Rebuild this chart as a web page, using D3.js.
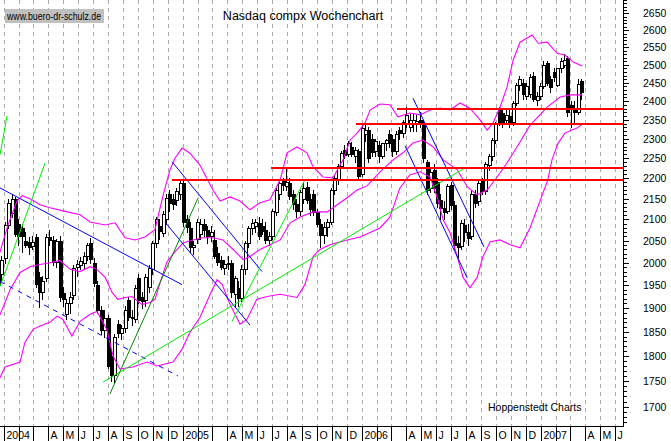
<!DOCTYPE html>
<html><head><meta charset="utf-8">
<script src="https://cdn.jsdelivr.net/npm/d3@7"></script>
<style>body{margin:0;background:#fff}svg{display:block}text{font-family:"Liberation Sans",Arial,sans-serif;fill:#000}</style>
</head><body><svg id="c" width="671" height="441"></svg>
<script>
// ---- data (weekly candles, first week starts Mon 22 Dec 2003) ----
const firstWeek = new Date(2003, 11, 22);
const opens  = [1951,1974,2010,2086,2115,2150,2090,2080,2050,2048,2038,2058,1968,1935,1965,2058,2052,2002,2049,1932,1888,1910,1928,1990,1995,2000,2015,2045,2000,1950,1896,1854,1878,1800,1762,1866,1848,1858,1918,1881,1876,1965,1925,1918,1945,1985,2045,2085,2068,2100,2162,2150,2147,2162,2188,2100,2080,2036,2055,2065,2090,2075,2060,2052,2022,2006,1988,1998,2000,1930,1944,1922,1985,2045,2080,2085,2092,2085,2075,2052,2062,2118,2160,2192,2180,2188,2160,2138,2120,2150,2178,2150,2160,2118,2090,2064,2082,2095,2170,2198,2230,2270,2262,2278,2255,2268,2210,2312,2322,2300,2268,2285,2255,2288,2313,2300,2268,2322,2315,2341,2331,2340,2340,2350,2340,2240,2175,2221,2190,2147,2127,2120,2183,2135,2045,2038,2088,2070,2060,2160,2145,2195,2168,2233,2255,2298,2375,2368,2350,2360,2345,2395,2445,2450,2415,2420,2470,2402,2415,2440,2505,2460,2480,2445,2490,2500,2520,2390,2378,2372,2455];
const highs  = [1980,2015,2095,2150,2160,2155,2100,2090,2070,2058,2060,2065,1980,1970,2065,2075,2060,2055,2060,1945,1920,1935,1995,2005,2012,2025,2045,2057,2010,1960,1905,1895,1885,1815,1845,1875,1865,1905,1925,1895,1950,1975,1935,1975,1995,2050,2105,2100,2120,2160,2170,2160,2175,2192,2192,2110,2095,2050,2100,2100,2100,2085,2085,2075,2035,2015,2005,2015,2005,1970,1960,1995,2050,2085,2100,2100,2105,2100,2095,2070,2125,2175,2195,2200,2225,2200,2170,2150,2170,2190,2190,2160,2170,2125,2100,2095,2100,2175,2205,2235,2268,2285,2295,2292,2280,2275,2335,2338,2330,2312,2300,2295,2290,2300,2322,2310,2320,2330,2350,2383,2365,2365,2363,2370,2350,2245,2225,2235,2200,2160,2145,2185,2190,2145,2060,2098,2100,2090,2168,2170,2195,2200,2240,2262,2302,2345,2385,2375,2375,2375,2400,2450,2470,2462,2450,2475,2480,2425,2450,2510,2512,2470,2490,2492,2520,2531,2525,2400,2400,2460,2462];
const lows   = [1940,1960,2000,2080,2105,2060,2040,2025,2035,2020,2030,1945,1903,1920,1960,2040,1995,1990,1915,1905,1876,1890,1920,1970,1985,1985,2005,2000,1948,1890,1845,1840,1775,1750,1748,1840,1835,1850,1875,1865,1870,1912,1900,1905,1935,1975,2035,2055,2060,2090,2120,2125,2135,2150,2085,2070,2025,2020,2045,2055,2060,2045,2050,2010,1995,1985,1975,1985,1925,1905,1904,1915,1975,2035,2065,2070,2055,2065,2045,2040,2055,2110,2150,2170,2170,2150,2125,2105,2110,2140,2140,2110,2110,2085,2035,2045,2060,2090,2160,2185,2225,2250,2255,2255,2240,2200,2205,2295,2240,2255,2255,2240,2250,2270,2280,2255,2260,2300,2305,2330,2320,2320,2320,2330,2240,2160,2165,2165,2130,2100,2100,2115,2125,2030,2012,2030,2050,2040,2055,2130,2135,2160,2160,2220,2245,2290,2335,2330,2340,2330,2335,2390,2430,2405,2405,2410,2400,2390,2405,2435,2445,2425,2455,2440,2480,2495,2360,2331,2340,2365,2405];
const closes = [1974,2006,2086,2140,2150,2066,2060,2062,2040,2036,2048,1952,1935,1960,2058,2052,2002,2049,1924,1920,1912,1925,1988,1998,2003,2015,2040,2008,1955,1896,1854,1880,1780,1762,1840,1848,1858,1896,1881,1878,1943,1918,1915,1968,1988,2045,2100,2072,2113,2152,2140,2137,2168,2188,2093,2082,2036,2040,2095,2090,2075,2060,2070,2015,2002,1990,1998,2000,1934,1965,1922,1985,2045,2080,2092,2095,2060,2072,2052,2062,2120,2170,2188,2182,2190,2157,2138,2120,2165,2175,2147,2125,2118,2090,2064,2082,2095,2170,2200,2230,2263,2258,2288,2262,2272,2205,2328,2322,2250,2265,2295,2255,2288,2296,2290,2268,2312,2315,2345,2362,2350,2349,2347,2340,2250,2170,2215,2175,2140,2127,2118,2180,2135,2040,2035,2092,2070,2057,2160,2140,2188,2168,2235,2255,2298,2340,2345,2342,2362,2345,2395,2445,2460,2420,2440,2465,2405,2415,2440,2500,2450,2438,2465,2490,2512,2515,2372,2378,2372,2448,2425];

// Bollinger bands: [week index, value]
const upperBand = [[0.3,2023],[2.7,2087],[5.3,2144],[6.8,2157],[9.7,2147],[12,2135],[14.9,2128],[19.9,2118],[23.7,2111],[26.6,2094],[31,2087],[33.9,2092],[36.8,2057],[39.7,2052],[42.6,2059],[45.5,2076],[47.9,2159],[49.9,2221],[51.4,2251],[53.4,2276],[55.7,2263],[58.6,2233],[62.4,2171],[64.5,2144],[67.4,2154],[70.3,2144],[73.2,2123],[76.1,2140],[79,2147],[82,2196],[84,2264],[86.9,2279],[89.8,2264],[91.6,2228],[94.5,2203],[97.4,2201],[100.3,2246],[102.4,2297],[104.4,2315],[106.7,2341],[108.2,2376],[111.1,2392],[114,2390],[116.3,2358],[119.8,2368],[122.8,2363],[125.7,2376],[128.6,2381],[131.5,2376],[134.4,2395],[137.3,2381],[140.3,2349],[142.3,2323],[144,2341],[146.1,2384],[148.1,2438],[149.9,2514],[151.9,2565],[155.4,2586],[157.2,2562],[159.8,2565],[162.7,2533],[165,2528],[167.4,2508],[170,2497]];
const middleBand = [[0.3,1885],[3.3,1940],[6.2,1978],[9.1,1991],[12,1996],[14.9,2000],[17.8,2005],[20.8,1985],[23.7,1980],[26.6,1991],[28.6,1985],[31,1967],[33,1934],[34.7,1919],[36.8,1923],[38.8,1925],[41.7,1908],[44.1,1912],[45.5,1919],[47,1955],[49,2002],[51.4,2025],[53.7,2045],[56.6,2052],[59.5,2057],[62.4,2057],[65.3,2052],[68.3,2030],[71.2,2007],[73.2,2014],[76.1,2030],[79,2041],[82,2052],[84.9,2092],[87.8,2106],[91.6,2118],[95.7,2118],[98.6,2135],[101.5,2152],[104.4,2171],[107.3,2181],[111.1,2216],[114.9,2246],[117.8,2264],[120.7,2289],[123.6,2297],[126.6,2279],[129.5,2246],[133.6,2221],[136.5,2179],[139.4,2159],[142.3,2171],[145.2,2203],[148.1,2238],[151,2279],[154.8,2335],[159.8,2384],[163.6,2411],[166.5,2417],[170,2417]];
const lowerBand = [[0.3,1756],[1.8,1778],[6.2,1788],[7.6,1828],[10,1855],[12,1862],[14.9,1870],[17,1883],[18.7,1876],[21.3,1841],[23.7,1872],[26.6,1887],[28.6,1893],[31.5,1855],[33.3,1800],[35.3,1774],[39.1,1778],[43.2,1788],[46.1,1780],[50.8,1788],[53.4,1814],[55.7,1849],[58.6,1880],[61.6,1930],[63.6,1962],[65.1,1951],[67.4,1908],[70.3,1866],[72.3,1876],[75.2,1919],[78.2,1925],[82,1930],[86.9,1923],[89.2,1951],[91.6,2014],[93.6,2030],[96.5,2041],[101.5,2052],[105.3,2059],[111.1,2080],[114,2106],[116.9,2176],[119.8,2208],[122.8,2216],[125.7,2203],[128,2147],[129.5,2099],[131.5,2069],[133.6,2014],[135.3,1967],[137.3,1944],[139.4,1967],[141.1,2014],[143.2,2048],[146.1,2052],[149,2041],[151.9,2034],[154.8,2080],[160,2196],[161.2,2246],[163,2289],[165,2315],[167,2323],[168.5,2328],[170,2338]];

// trend lines: [[week, value],[week, value]]
const blueLines = [
  [[0.35,2176],[53.4,1951]],
  [[50.5,2241],[76.7,1980]],
  [[48.4,2094],[73.2,1864]],
  [[120.7,2408],[141.4,2036]],
  [[118.4,2282],[136.5,1966]]
];
const blueDashed = [[[0.35,1958],[52.2,1760]]];
const greenLines = [
  [[0.35,2259],[2.4,2360]],
  [[0.35,1947],[13.5,2238]],
  [[30.4,1748],[135.9,2226]],
  [[68,1872],[89.2,2196]]
];
const darkGreenLines = [[[32.4,1725],[58.1,2152]]];
const redLevels = [2195, 2225, 2338, 2380];
const redStartWeeks = [50.5, 79.3, 104.1, 116.1];

const yTickLabels = [1700,1750,1800,1850,1900,1950,2000,2050,2100,2150,2200,2250,2300,2350,2400,2450,2500,2550,2600,2650];
const monthLabels = ["2004","","","A","M","J","J","A","S","O","N","D",
                     "2005","","","A","M","J","J","A","S","O","N","D",
                     "2006","","","A","M","J","J","A","S","O","N","D",
                     "2007","","","A","M","J"];

// ---- scales ----
const svg = d3.select("#c");
const plotR = 623, plotB = 426;
const x = d3.scaleTime().domain([new Date(2004,0,1), new Date(2007,5,1)]).range([3.7, 615]);
const xw = d3.scaleLinear().domain([0,1]).range([x(firstWeek), x(d3.timeDay.offset(firstWeek,7))]);
const y = d3.scaleLog().domain([1700,2650]).range([406.7,13.3]);

svg.append("defs").append("clipPath").attr("id","pc").append("rect")
  .attr("x",0).attr("y",0).attr("width",plotR).attr("height",plotB);

// grid (monthly dashed)
const months = d3.timeMonth.range(new Date(2004,0,1), new Date(2007,5,2));
svg.append("g").selectAll("line").data(months).join("line")
  .attr("x1",d=>Math.round(x(d))+0.5).attr("x2",d=>Math.round(x(d))+0.5)
  .attr("y1",0).attr("y2",plotB)
  .attr("stroke","#aaaaaa").attr("stroke-dasharray","4,4");

const g = svg.append("g").attr("clip-path","url(#pc)");

// candles
const idx = d3.range(opens.length);
const cg = g.append("g");
idx.forEach(i=>{
  const cx = Math.round(xw(i));
  const o=opens[i], c=closes[i];
  cg.append("line").attr("x1",cx-0.5).attr("x2",cx-0.5)
    .attr("y1",Math.round(y(highs[i]))).attr("y2",Math.round(y(lows[i]))+1)
    .attr("stroke","#000");
  const top = Math.round(y(Math.max(o,c))), bot = Math.round(y(Math.min(o,c)));
  cg.append("rect").attr("x",cx-1.5).attr("y",top+0.5)
    .attr("width",3).attr("height",Math.max(bot-top,1))
    .attr("fill", c>=o ? "#fff" : "#000").attr("stroke","#000");
});

// bands
const line = d3.line().x(d=>xw(d[0])).y(d=>y(d[1]));
[upperBand, middleBand, lowerBand].forEach(b=>{
  g.append("path").attr("d",line(b)).attr("fill","none").attr("stroke","#ff00ff").attr("stroke-width",1.1);
});

// trend lines
const drawLines = (arr,col,dash)=>arr.forEach(l=>{
  g.append("path").attr("d",line(l)).attr("fill","none").attr("stroke",col).attr("stroke-width",1)
   .attr("stroke-dasharray",dash||null);
});
drawLines(blueLines,"#0000ff");
drawLines(blueDashed,"#0000ff","5,5");
drawLines(greenLines,"#00ee00");
drawLines(darkGreenLines,"#008a00");

// red horizontal lines
redLevels.forEach((v,k)=>{
  const yy = Math.round(y(v));
  g.append("line").attr("x1",Math.round(xw(redStartWeeks[k]))).attr("x2",plotR)
    .attr("y1",yy).attr("y2",yy).attr("stroke","#ff0000").attr("stroke-width",2);
});

// right axis
const ax = svg.append("g");
ax.append("line").attr("x1",plotR+0.5).attr("x2",plotR+0.5).attr("y1",0).attr("y2",plotB+1).attr("stroke","#000");
const minor = d3.range(1670, 2700, 10).filter(v=>y(v)>=0 && y(v)<=plotB);
ax.selectAll("line.mn").data(minor).join("line").attr("class","mn")
  .attr("x1",plotR).attr("x2",d=> d%50===0 ? plotR+6 : plotR+4)
  .attr("y1",d=>Math.round(y(d))+0.5).attr("y2",d=>Math.round(y(d))+0.5).attr("stroke","#000");
ax.selectAll("text").data(yTickLabels).join("text")
  .attr("x",643).attr("y",d=>y(d)+4).attr("font-size",10.5).text(d=>d);

// bottom axis
svg.append("line").attr("x1",0).attr("x2",plotR+1).attr("y1",plotB+0.5).attr("y2",plotB+0.5).attr("stroke","#000");
const bx = svg.append("g");
bx.selectAll("line").data(months).join("line")
  .attr("x1",d=>Math.round(x(d))+0.5).attr("x2",d=>Math.round(x(d))+0.5)
  .attr("y1",plotB).attr("y2",441).attr("stroke","#000");
bx.selectAll("text").data(months).join("text")
  .attr("x",d=>Math.round(x(d))+2.5).attr("y",438.5).attr("font-size",10.5)
  .text((d,i)=>monthLabels[i]);

// texts
svg.append("rect").attr("x",5).attr("y",9).attr("width",99).attr("height",14).attr("fill","#c0c0c0");
svg.append("text").attr("x",7).attr("y",20).attr("font-size",10)
  .attr("textLength",94).attr("lengthAdjust","spacingAndGlyphs").text("www.buero-dr-schulz.de");
svg.append("text").attr("x",303).attr("y",20).attr("text-anchor","middle").attr("font-size",12.5).text("Nasdaq compx Wochenchart");
svg.append("text").attr("x",488).attr("y",411).attr("font-size",10.5).text("Hoppenstedt Charts");
</script></body></html>
